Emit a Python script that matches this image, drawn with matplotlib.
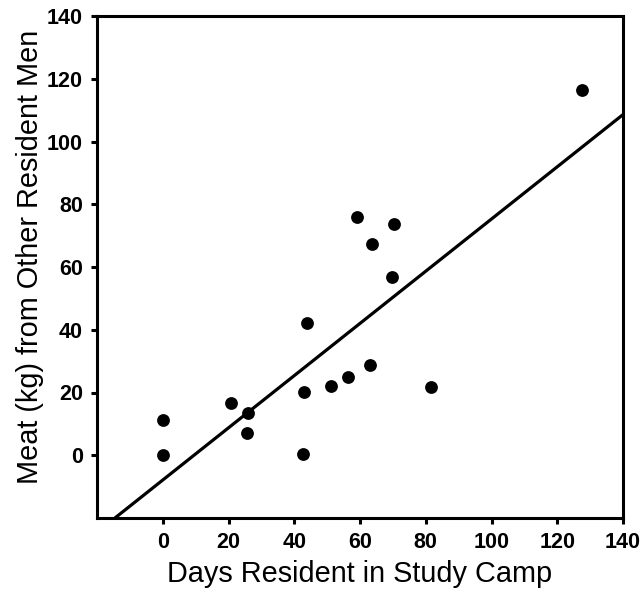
import matplotlib
matplotlib.use("Agg")
import matplotlib.pyplot as plt
import numpy as np

days = [0, 0, 20.8, 26.0, 25.5, 43.8, 43.1, 42.8, 51.2, 56.4, 63.0,
        59.0, 70.4, 63.7, 69.6, 81.5, 127.5]
meat = [11.3, 0.2, 16.8, 13.6, 7.2, 42.2, 20.3, 0.5, 22.1, 24.9, 28.7,
        75.8, 73.8, 67.2, 56.8, 21.9, 116.4]

fit_slope = 0.832
fit_intercept = -7.9

xticks = [0, 20, 40, 60, 80, 100, 120, 140]
yticks = [0, 20, 40, 60, 80, 100, 120, 140]

plt.rcParams['font.family'] = ['Liberation Sans', 'DejaVu Sans']

fig = plt.figure(figsize=(6.4, 5.92), dpi=100)
ax = fig.add_axes([97/640, 1-518/592, (623-97)/640, (518-16)/592])

xl = np.array([-20, 140])
ax.plot(xl, fit_intercept + fit_slope*xl, color='black', lw=2.3, solid_capstyle='butt')
ax.scatter(days, meat, s=85, color='black', zorder=3, linewidths=0)

ax.set_xlim(-20, 140)
ax.set_ylim(-20, 140)
ax.set_xticks(xticks)
ax.set_yticks(yticks)
for s in ax.spines.values():
    s.set_linewidth(2.2)
ax.tick_params(axis='both', direction='out', length=4, width=2.2,
               labelsize=15.5, pad=6)
for lab in ax.get_xticklabels() + ax.get_yticklabels():
    lab.set_fontweight('bold')
ax.set_xlabel('Days Resident in Study Camp', fontsize=20.8, labelpad=5)
ax.set_ylabel('Meat (kg) from Other Resident Men', fontsize=20.8)
ax.yaxis.set_label_coords(-0.1, 0.52)

fig.savefig('out.png', dpi=100)
